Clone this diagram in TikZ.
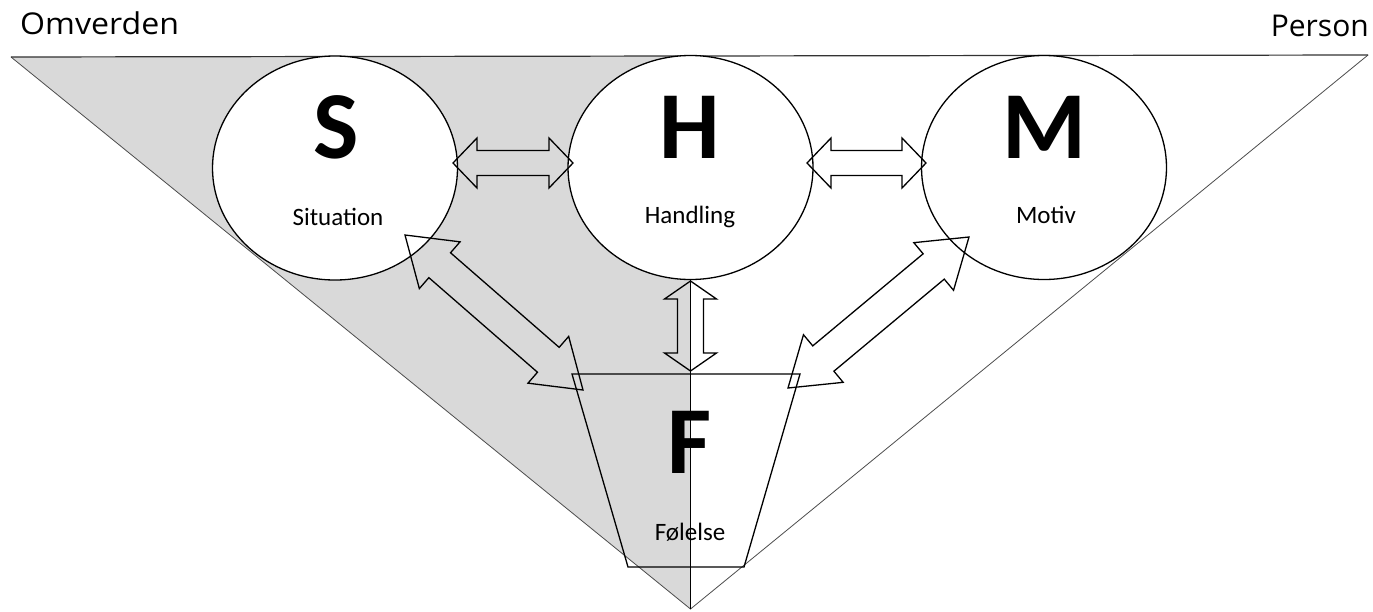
\documentclass[tikz,border=0pt]{standalone}
\usepackage{fontspec}
\setmainfont{Carlito}
\newfontfamily\osans{Open Sans}
\usetikzlibrary{shapes.geometric,calc}
\definecolor{graybg}{RGB}{217,217,217}
\tikzset{
  circ/.style={ellipse, draw, line width=1.3pt, fill=white, minimum width=245pt, minimum height=224pt, inner sep=0pt},
  bigletter/.style={anchor=base, inner sep=0pt, font=\fontsize{96}{96}\selectfont\bfseries},
  lbl/.style={anchor=base, inner sep=0pt, font=\fontsize{25}{25}\selectfont},
  cornerlbl/.style={inner sep=0pt, font=\osans\fontsize{30}{30}\selectfont},
  arr/.style={draw, line width=1.3pt, line join=miter},
  edge/.style={line width=0.8pt, black!70},
  strong/.style={line width=1.3pt},
}
\newcommand\mydblarrow[5]{%
  \draw[arr] (#1)
   -- ($($(#1)!#3!(#2)$)!#4!90:(#2)$)
   -- ($($(#1)!#3!(#2)$)!#5!90:(#2)$)
   -- ($($(#2)!#3!(#1)$)!#5!-90:(#1)$)
   -- ($($(#2)!#3!(#1)$)!#4!-90:(#1)$)
   -- (#2)
   -- ($($(#2)!#3!(#1)$)!#4!90:(#1)$)
   -- ($($(#2)!#3!(#1)$)!#5!90:(#1)$)
   -- ($($(#1)!#3!(#2)$)!#5!-90:(#2)$)
   -- ($($(#1)!#3!(#2)$)!#4!-90:(#2)$)
   -- cycle;}
\begin{document}
\begin{tikzpicture}[x=1pt,y=-1pt]
\useasboundingbox (0,0) rectangle (1373,611);
% triangle frame
\coordinate (TL) at (11,57);
\coordinate (TR) at (1368,55);
\coordinate (TM) at (690.5,56);
\coordinate (AP) at (690.5,609);
\fill[graybg] (TL) -- (TM) -- (AP) -- cycle;
\draw[edge] (TL) -- (AP) -- (TR);
\draw[line width=1.2pt, black!80] (TL) -- (TR);
\draw[strong] (TM) -- (AP);
% corner labels
\node[cornerlbl, anchor=base west] (omv) at (20,34) {\scalebox{1.07}[1]{Omverden}};
\node[cornerlbl, anchor=base east] (pers) at (1369,36) {Person};
% circles
\node[circ] (S) at (335,168) {};
\node[circ] (H) at (690.5,167.5) {};
\node[circ] (M) at (1044,167.5) {};
% trapezoid
\coordinate (F1) at (572,374);
\coordinate (F2) at (800,374);
\coordinate (F3) at (744,567);
\coordinate (F4) at (628,567);
\draw[strong] (F1) -- (F2) -- (F3) -- (F4) -- cycle;
% arrows
\coordinate (shA) at (453,163);
\coordinate (shB) at (573,163);
\coordinate (hmA) at (807,163);
\coordinate (hmB) at (926,163);
\coordinate (hfA) at (690.5,281);
\coordinate (hfB) at (690.5,371);
\coordinate (sfA) at (405,235);
\coordinate (sfB) at (583,390);
\coordinate (mfA) at (969,237);
\coordinate (mfB) at (788,388);
\mydblarrow{shA}{shB}{24pt}{25pt}{12.5pt}
\mydblarrow{hmA}{hmB}{24pt}{25pt}{12.5pt}
\mydblarrow{hfA}{hfB}{18pt}{26pt}{13pt}
\mydblarrow{sfA}{sfB}{46pt}{31pt}{16.5pt}
\mydblarrow{mfA}{mfB}{46pt}{31pt}{16.5pt}
% texts
\node[bigletter] (Sl) at (336,158) {S};
\node[bigletter] (Hl) at (690,158) {H};
\node[bigletter] (Ml) at (1044,158) {M};
\node[bigletter] (Fl) at (690,473) {F};
\node[lbl] (St) at (338,225) {Situation};
\node[lbl] (Ht) at (690,223) {Handling};
\node[lbl] (Mt) at (1046,223) {Motiv};
\node[lbl] (Ft) at (690,540) {Følelse};
\end{tikzpicture}
\end{document}
